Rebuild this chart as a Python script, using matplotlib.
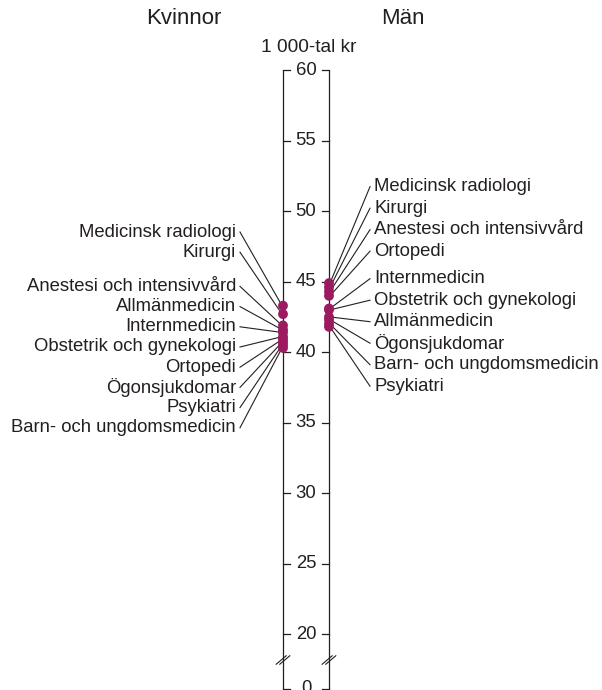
import numpy as np
import matplotlib
matplotlib.use("Agg")
import matplotlib.pyplot as plt

plt.rcParams['font.family'] = ['Liberation Sans', 'DejaVu Sans']

# ── Data (1 000-tal kr) ───────────────────────────────────────────────────────
women_labels = ["Medicinsk radiologi", "Kirurgi", "Anestesi och intensivvård",
                "Allmänmedicin", "Internmedicin", "Obstetrik och gynekologi",
                "Ortopedi", "Ögonsjukdomar", "Psykiatri", "Barn- och ungdomsmedicin"]
women_values = [43.3, 42.7, 41.9, 41.6, 41.4, 41.1, 40.9, 40.7, 40.5, 40.3]

men_labels = ["Medicinsk radiologi", "Kirurgi", "Anestesi och intensivvård",
              "Ortopedi", "Internmedicin", "Obstetrik och gynekologi",
              "Allmänmedicin", "Ögonsjukdomar", "Barn- och ungdomsmedicin", "Psykiatri"]
men_values = [44.9, 44.6, 44.3, 44.0, 43.1, 43.0, 42.5, 42.3, 42.0, 41.8]

tick_values = [60, 55, 50, 45, 40, 35, 30, 25, 20]

# ── Layout ────────────────────────────────────────────────────────────────────
PX_PER_UNIT = 14.1
REF_PX, REF_V = 281.7, 45.0
H = 690


def v_of_px(p):
    return REF_V - (p - REF_PX) / PX_PER_UNIT


X_LEFT, X_RIGHT = 283, 329
X_MID = (X_LEFT + X_RIGHT) / 2
ZERO_POS = v_of_px(688.5)
BREAK_POS = v_of_px(660)
TOP = 60
DOT = '#9b1a60'
INK = '#231f20'
FS = 13.3


def slots(start_px, step, gap_after, gap, n):
    ys, p = [], start_px
    for i in range(n):
        ys.append(v_of_px(p))
        p += step + (gap if i == gap_after else 0)
    return ys


fig = plt.figure(figsize=(6.02, 6.90), dpi=100)
ax = fig.add_axes([0, 0, 1, 1])
ax.set_xlim(0, 602)
ax.set_ylim(v_of_px(H), v_of_px(0))
ax.axis('off')

# axis lines
for x in (X_LEFT, X_RIGHT):
    ax.plot([x, x], [ZERO_POS - 1, TOP], color=INK, lw=0.9, solid_capstyle='butt')

# ticks and labels
for v in tick_values:
    ax.plot([X_LEFT, X_LEFT + 7], [v, v], color=INK, lw=0.9)
    ax.plot([X_RIGHT - 7, X_RIGHT], [v, v], color=INK, lw=0.9)
    ax.text(X_MID, v, str(v), ha='center', va='center', fontsize=FS, color=INK)
ax.plot([X_LEFT, X_LEFT + 7], [ZERO_POS] * 2, color=INK, lw=0.9)
ax.plot([X_RIGHT - 7, X_RIGHT], [ZERO_POS] * 2, color=INK, lw=0.9)
ax.text(X_MID, ZERO_POS, "0", ha='center', va='center', fontsize=FS, color=INK)

# axis break marks
for x in (X_LEFT, X_RIGHT):
    for dx in (-1.8, 1.8):
        ax.plot([x - 5 + dx, x + 5 + dx], [BREAK_POS - 0.3, BREAK_POS + 0.3],
                color=INK, lw=0.8)

# leader lines + labels
w_slots = slots(232, 20.2, 1, 14, len(women_labels))
m_slots = slots(186.7, 21.5, 3, 6, len(men_labels))

for lab, val, ly in zip(women_labels, women_values, w_slots):
    ax.plot([240, X_LEFT - 1], [ly, val], color=INK, lw=0.8)
    ax.text(236, ly, lab, ha='right', va='center', fontsize=FS, color=INK)
for lab, val, ly in zip(men_labels, men_values, m_slots):
    ax.plot([370, X_RIGHT + 1], [ly, val], color=INK, lw=0.8)
    ax.text(374, ly, lab, ha='left', va='center', fontsize=FS, color=INK)

ax.scatter([X_LEFT] * len(women_values), women_values, s=50, color=DOT, zorder=5,
           edgecolors='none')
ax.scatter([X_RIGHT] * len(men_values), men_values, s=50, color=DOT, zorder=5,
           edgecolors='none')

# headers
ax.text(184, v_of_px(19), "Kvinnor", ha='center', va='center', fontsize=16, color=INK)
ax.text(403, v_of_px(19), "Män", ha='center', va='center', fontsize=16, color=INK)
ax.text(309, v_of_px(47), "1 000-tal kr", ha='center', va='center', fontsize=13.8,
        color=INK)

fig.savefig("out.png", dpi=100)
